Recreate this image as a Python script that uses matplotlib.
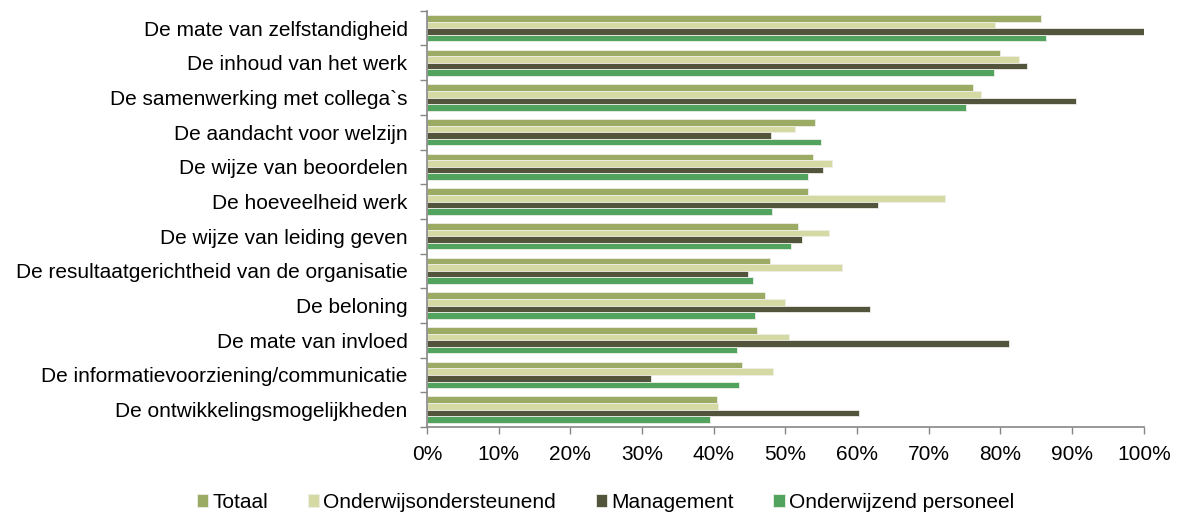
import numpy as np
import matplotlib.pyplot as plt
from matplotlib.ticker import FuncFormatter, FixedLocator

plt.rcParams["font.family"] = ["Liberation Sans", "DejaVu Sans"]

# Aspects of the job, top to bottom
categories = [
    "De mate van zelfstandigheid",
    "De inhoud van het werk",
    "De samenwerking met collega`s",
    "De aandacht voor welzijn",
    "De wijze van beoordelen",
    "De hoeveelheid werk",
    "De wijze van leiding geven",
    "De resultaatgerichtheid van de organisatie",
    "De beloning",
    "De mate van invloed",
    "De informatievoorziening/communicatie",
    "De ontwikkelingsmogelijkheden",
]

# Percentage satisfied per group
totaal = [85.6, 80.0, 76.2, 54.1, 53.9, 53.1, 51.8, 47.8, 47.1, 46.1, 43.9, 40.5]
ondersteunend = [79.3, 82.6, 77.3, 51.4, 56.5, 72.2, 56.1, 57.9, 49.9, 50.5, 48.2, 40.6]
management = [100.0, 83.7, 90.5, 48.0, 55.3, 62.9, 52.3, 44.8, 61.8, 81.2, 31.3, 60.3]
onderwijzend = [86.4, 79.1, 75.2, 55.0, 53.1, 48.1, 50.8, 45.5, 45.8, 43.3, 43.5, 39.5]

series = [
    ("Totaal", totaal, "#9BAB64"),
    ("Onderwijsondersteunend", ondersteunend, "#D5DAA5"),
    ("Management", management, "#52553B"),
    ("Onderwijzend personeel", onderwijzend, "#52A35E"),
]

fs = 15

fig = plt.figure(figsize=(11.78, 5.15), dpi=100)
ax = fig.add_axes([0.3625, 0.171, 0.6085, 0.808])

y = np.arange(len(categories))
bar_h = 0.19
offsets = (np.arange(len(series)) - 1.5) * bar_h
for (name, vals, color), off in zip(series, offsets):
    ax.barh(y + off, vals, height=bar_h, color=color, label=name,
            edgecolor="#EEEEE8", linewidth=0.6)

ax.set_xlim(0, 100)
ax.set_ylim(len(categories) - 0.5, -0.5)
ax.set_xticks(np.arange(0, 101, 10))
ax.xaxis.set_major_formatter(FuncFormatter(lambda v, p: f"{v:.0f}%"))
ax.set_yticks(y)
ax.set_yticklabels(categories)
ax.yaxis.set_minor_locator(FixedLocator(np.arange(-0.5, len(categories), 1)))

ax.tick_params(axis="y", which="major", length=0, pad=14, labelsize=fs)
ax.tick_params(axis="y", which="minor", length=5, width=1, color="#868686")
ax.tick_params(axis="x", length=5, width=1, color="#868686", labelsize=fs, pad=8)

for side in ("top", "right"):
    ax.spines[side].set_visible(False)
for side in ("left", "bottom"):
    ax.spines[side].set_color("#868686")
    ax.spines[side].set_linewidth(1.2)

fig.legend(loc="lower center", bbox_to_anchor=(0.514, -0.03), ncol=4,
           frameon=False, fontsize=fs, handlelength=0.55, handleheight=0.55,
           handletextpad=0.2, columnspacing=1.9)

fig.savefig("out.png", dpi=100)
